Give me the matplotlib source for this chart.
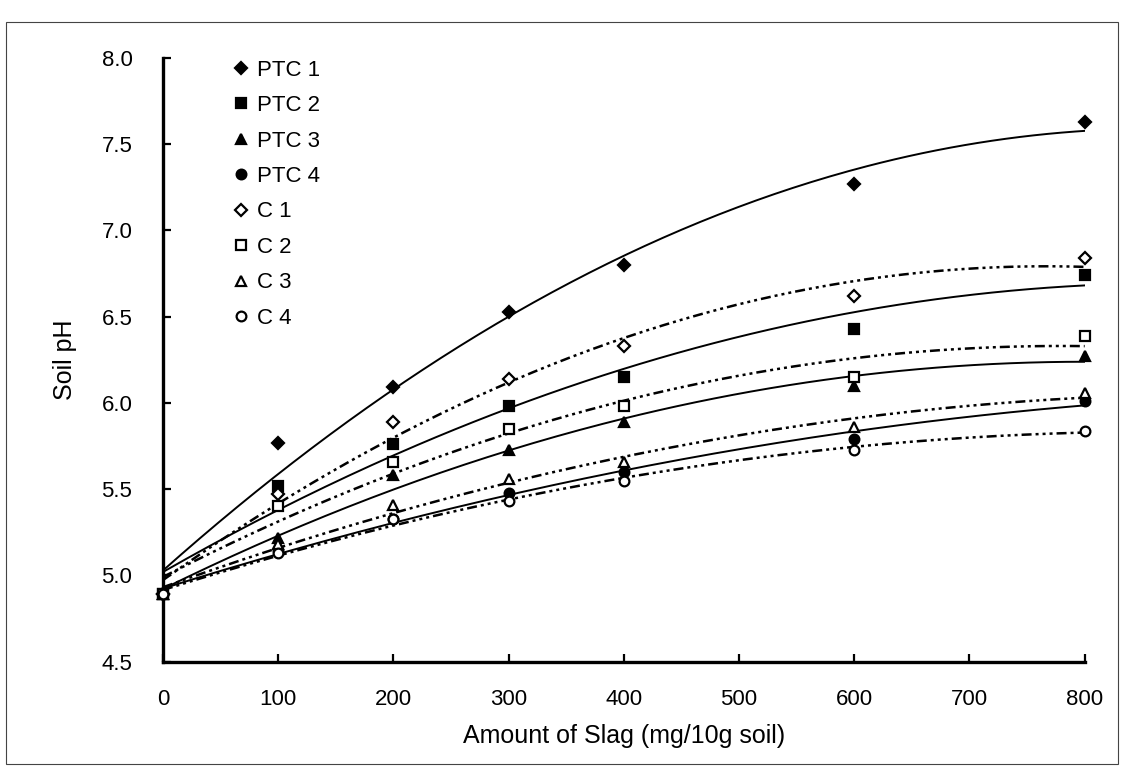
import numpy as np
import matplotlib.pyplot as plt
from matplotlib.patches import Rectangle

plt.rcParams['font.family'] = ['Liberation Sans', 'DejaVu Sans']

# slag amounts (mg/10g soil)
slag = [0, 100, 200, 300, 400, 600, 800]

# soil pH
ptc1 = [4.89, 5.77, 6.09, 6.53, 6.80, 7.27, 7.63]
ptc2 = [4.89, 5.52, 5.76, 5.98, 6.15, 6.43, 6.74]
ptc3 = [4.89, 5.22, 5.58, 5.73, 5.89, 6.10, 6.27]
ptc4 = [4.89, 5.15, 5.33, 5.48, 5.60, 5.79, 6.01]
c1 = [4.89, 5.47, 5.89, 6.14, 6.33, 6.62, 6.84]
c2 = [4.89, 5.40, 5.66, 5.85, 5.98, 6.15, 6.39]
c3 = [4.89, 5.18, 5.41, 5.56, 5.66, 5.86, 6.06]
c4 = [4.89, 5.13, 5.33, 5.43, 5.55, 5.73, 5.84]

labels = ['PTC 1', 'PTC 2', 'PTC 3', 'PTC 4', 'C 1', 'C 2', 'C 3', 'C 4']
series = [ptc1, ptc2, ptc3, ptc4, c1, c2, c3, c4]
markers = ['D', 's', '^', 'o', 'D', 's', '^', 'o']
sizes = [6.5, 7, 7.5, 7, 6, 7, 7, 7]

fig = plt.figure(figsize=(11.24, 7.84), dpi=100)
ax = fig.add_axes([0.145, 0.156, 0.820, 0.770])

# page frame of the scan
fig.patches.append(Rectangle((0.005, 0.025), 0.99, 0.947, transform=fig.transFigure,
                             fill=False, lw=0.8, ec='#444444'))

dotdash = (0, (4, 1.6, 1.2, 1.6, 1.2, 1.6, 1.2, 1.6))
xs = np.linspace(0, 800, 200)
for i in range(len(series)):
    y = series[i]
    # 2nd order trendline
    coef = np.polyfit(slag, y, 2)
    if i < 4:
        ax.plot(xs, np.polyval(coef, xs), color='black', lw=1.4, ls='-')
    else:
        ax.plot(xs, np.polyval(coef, xs), color='black', lw=1.8, ls=dotdash)
    face = 'black' if i < 4 else 'white'
    ax.plot(slag, y, ls='none', marker=markers[i], ms=sizes[i], mfc=face,
            mec='black', mew=1.6, label=labels[i], clip_on=False, zorder=5)

ax.set_xlim(0, 800)
ax.set_ylim(4.5, 8.0)
ax.set_xticks(range(0, 801, 100))
ax.set_yticks(np.arange(4.5, 8.01, 0.5))
ax.set_yticklabels(['%.1f' % v for v in np.arange(4.5, 8.01, 0.5)])

for s in ['top', 'right']:
    ax.spines[s].set_visible(False)
for s in ['left', 'bottom']:
    ax.spines[s].set_linewidth(2.4)

ax.tick_params(axis='both', direction='in', length=6, width=1.6, labelsize=16)
ax.tick_params(axis='x', pad=20)
ax.tick_params(axis='y', pad=22)

ax.set_xlabel('Amount of Slag (mg/10g soil)', fontsize=18, labelpad=10)
ax.set_ylabel('Soil pH', fontsize=18, labelpad=18)

ax.legend(loc='upper left', bbox_to_anchor=(0.068, 1.012), frameon=False, fontsize=16,
          handlelength=0.6, handletextpad=0.4, labelspacing=0.65, borderaxespad=0)

plt.savefig('out.png', dpi=100)
